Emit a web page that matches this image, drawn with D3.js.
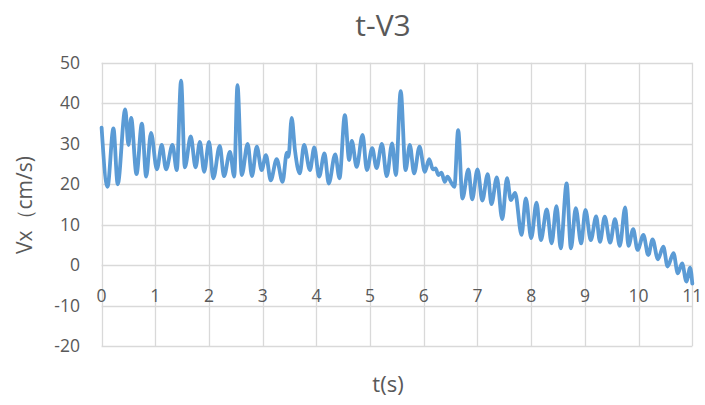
<!DOCTYPE html>
<html>
<head>
<meta charset="utf-8">
<script src="https://cdn.jsdelivr.net/npm/d3@7"></script>
<style>
  html, body { margin: 0; padding: 0; background: #fff; }
  svg { display: block; font-family: "Open Sans", "Noto Sans", sans-serif; }
</style>
</head>
<body>
<svg id="chart" width="705" height="405"></svg>
<script>
// ---- data ----
const chartTitle = "t-V3";
const xTitle = "t(s)";
const yTitle = "Vx（cm/s)";
const xTicks = [0, 1, 2, 3, 4, 5, 6, 7, 8, 9, 10, 11];
const yTicks = [-20, -10, 0, 10, 20, 30, 40, 50];
const times = [
  0.00, 0.11, 0.22, 0.30, 0.44, 0.50, 0.55, 0.65, 0.75, 0.83, 0.92,
  1.03, 1.12, 1.20, 1.32, 1.40, 1.48, 1.55, 1.66, 1.75, 1.83, 1.91,
  2.00, 2.08, 2.20, 2.28, 2.39, 2.47, 2.53, 2.61, 2.72, 2.80, 2.89, 2.98,
  3.06, 3.15, 3.26, 3.37, 3.45, 3.48, 3.54, 3.60, 3.69, 3.77, 3.88, 3.96,
  4.05, 4.15, 4.23, 4.35, 4.43, 4.53, 4.61, 4.66, 4.75, 4.86, 4.94,
  5.04, 5.12, 5.22, 5.31, 5.41, 5.48, 5.57, 5.66, 5.74, 5.82, 5.92,
  6.02, 6.10, 6.17, 6.22, 6.27, 6.33, 6.39, 6.44, 6.52, 6.57, 6.64, 6.72, 6.83, 6.90,
  7.00, 7.09, 7.19, 7.26, 7.36, 7.46, 7.55, 7.62, 7.70, 7.82, 7.90,
  8.00, 8.10, 8.18, 8.29, 8.38, 8.47, 8.55, 8.66, 8.74, 8.83, 8.93,
  9.01, 9.11, 9.21, 9.28, 9.37, 9.47, 9.56, 9.65, 9.75, 9.81, 9.90, 9.98,
  10.09, 10.18, 10.26, 10.36, 10.46, 10.54, 10.65, 10.73, 10.81, 10.89, 10.96, 11.00
];
const vx = [
  34.0, 19.4, 33.8, 20.0, 38.5, 29.7, 36.4, 22.5, 35.0, 21.9, 32.7,
  23.7, 29.7, 23.7, 29.7, 23.5, 45.6, 24.2, 31.8, 24.2, 30.5, 23.1,
  30.5, 21.5, 29.5, 22.0, 28.0, 21.9, 44.5, 22.3, 30.0, 22.0, 29.3, 23.5,
  27.2, 21.0, 26.2, 20.6, 27.8, 26.8, 36.4, 28.5, 22.7, 29.7, 23.5, 29.1,
  21.9, 27.6, 20.2, 27.4, 21.5, 37.1, 26.0, 30.7, 24.3, 32.2, 23.5,
  28.9, 24.0, 30.0, 22.0, 30.1, 22.3, 43.0, 23.5, 29.7, 22.7, 29.3,
  23.1, 26.2, 23.7, 23.9, 22.3, 22.9, 20.6, 21.9, 20.2, 19.4, 33.4, 16.5, 23.7, 16.3,
  23.7, 16.0, 22.5, 15.1, 21.7, 11.4, 21.5, 16.1, 17.9, 7.5, 16.5,
  6.7, 15.5, 6.2, 13.8, 5.4, 14.6, 4.2, 20.2, 4.2, 14.1, 5.4,
  13.7, 6.2, 12.1, 5.8, 12.0, 5.6, 11.4, 4.8, 14.3, 4.8, 8.9, 3.8,
  7.5, 2.5, 6.4, 1.5, 4.6, -0.3, 3.0, -2.0, 0.5, -4.0, -0.6, -4.5
];

// ---- layout ----
const svg = d3.select("#chart");
const plot = { left: 101.6, right: 692.3, top: 62.8, bottom: 346.3 };
const x = d3.scaleLinear().domain([0, 11]).range([plot.left, plot.right]);
const y = d3.scaleLinear().domain([-20, 50]).range([plot.bottom, plot.top]);
const gridColor = "#D9D9D9";
const textColor = "#595959";

// gridlines
svg.append("g").selectAll("line").data(yTicks).join("line")
  .attr("x1", plot.left).attr("x2", plot.right)
  .attr("y1", d => Math.round(y(d)) + 0.5).attr("y2", d => Math.round(y(d)) + 0.5)
  .attr("stroke", gridColor).attr("stroke-width", 1.3);
svg.append("g").selectAll("line").data(xTicks).join("line")
  .attr("y1", plot.top).attr("y2", plot.bottom)
  .attr("x1", d => Math.round(x(d)) + 0.5).attr("x2", d => Math.round(x(d)) + 0.5)
  .attr("stroke", gridColor).attr("stroke-width", 1.3);

// y tick labels
svg.append("g").selectAll("text").data(yTicks).join("text")
  .attr("x", 80).attr("y", d => y(d))
  .attr("dy", "0.35em").attr("text-anchor", "end")
  .attr("fill", textColor).style("font-size", "17.5px")
  .text(d => d);

// x tick labels (axis crosses at 0)
svg.append("g").selectAll("text").data(xTicks).join("text")
  .attr("x", d => x(d)).attr("y", y(0) + 31)
  .attr("dy", "0.35em").attr("text-anchor", "middle")
  .attr("fill", textColor).style("font-size", "17.5px")
  .text(d => d);

// line
const pts = times.map((t, i) => [t, vx[i]]);
const line = d3.line().x(d => x(d[0])).y(d => y(d[1])).curve(d3.curveMonotoneX);
svg.append("path").datum(pts)
  .attr("d", line)
  .attr("fill", "none")
  .attr("stroke", "#5B9BD5")
  .attr("stroke-width", 3.8)
  .attr("stroke-linejoin", "round")
  .attr("stroke-linecap", "round");

// titles
svg.append("text").attr("x", 383).attr("y", 25).attr("dy", "0.35em")
  .attr("text-anchor", "middle").attr("fill", textColor)
  .style("font-size", "30px").text(chartTitle);
svg.append("text").attr("x", 388).attr("y", 384).attr("dy", "0.35em")
  .attr("text-anchor", "middle").attr("fill", textColor)
  .style("font-size", "22px").text(xTitle);
svg.append("text")
  .attr("transform", "translate(25,205) rotate(-90)")
  .attr("dy", "0.35em").attr("text-anchor", "middle").attr("fill", textColor)
  .style("font-size", "21px").text(yTitle);
</script>
</body>
</html>
